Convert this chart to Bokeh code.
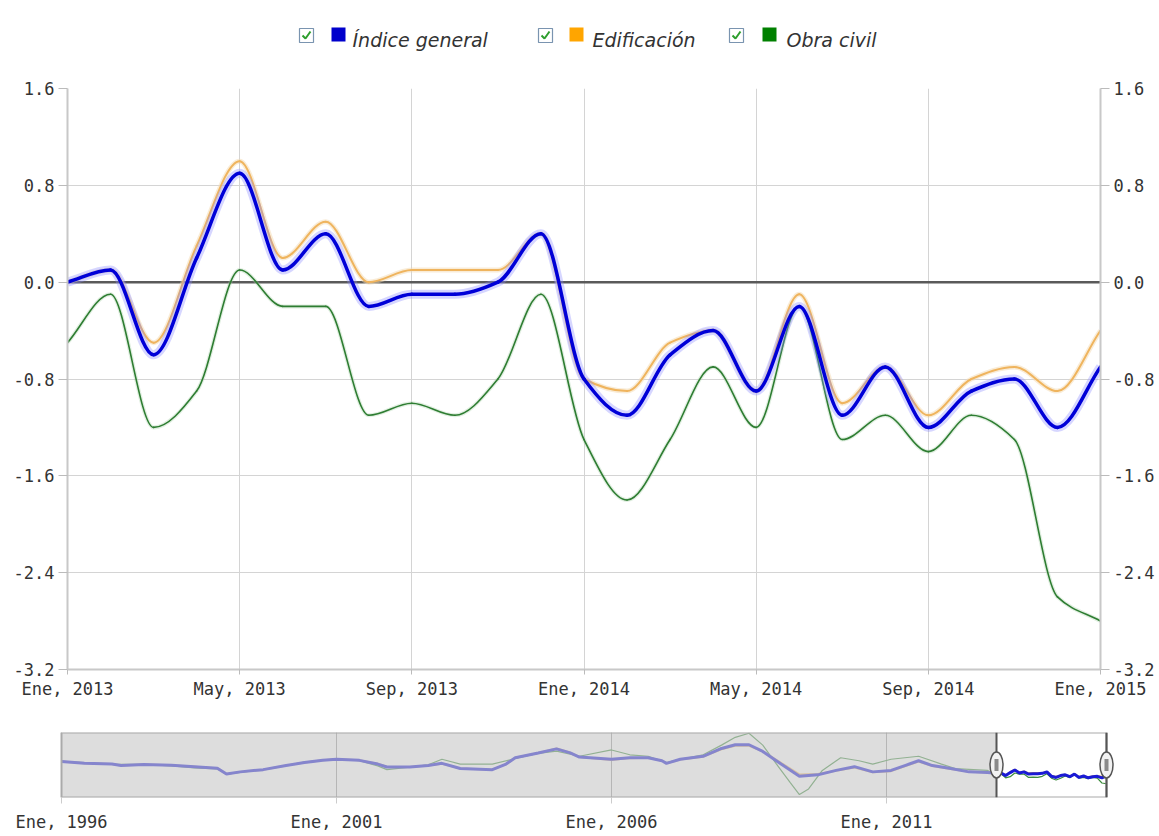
import numpy as np
from bokeh.plotting import figure
from bokeh.models import (Range1d, LinearAxis, FixedTicker, Span,
                          NumeralTickFormatter, ColumnDataSource)
from bokeh.core.properties import value
from bokeh.embed import file_html
from bokeh.resources import INLINE

# ---------------- data ----------------
series_names = ["Índice general", "Edificación", "Obra civil"]
series_colors = ["#0000cc", "#ffa500", "#008000"]

months = ["2013-01", "2013-02", "2013-03", "2013-04", "2013-05", "2013-06",
          "2013-07", "2013-08", "2013-09", "2013-10", "2013-11", "2013-12",
          "2014-01", "2014-02", "2014-03", "2014-04", "2014-05", "2014-06",
          "2014-07", "2014-08", "2014-09", "2014-10", "2014-11", "2014-12",
          "2015-01"]
indice_general = [0.0, 0.1, -0.6, 0.2, 0.9, 0.1, 0.4, -0.2, -0.1, -0.1, 0.0, 0.4,
                  -0.8, -1.1, -0.6, -0.4, -0.9, -0.2, -1.1, -0.7, -1.2, -0.9, -0.8, -1.2,
                  -0.7]
edificacion = [0.0, 0.1, -0.5, 0.3, 1.0, 0.2, 0.5, 0.0, 0.1, 0.1, 0.1, 0.4,
               -0.8, -0.9, -0.5, -0.4, -0.9, -0.1, -1.0, -0.7, -1.1, -0.8, -0.7, -0.9,
               -0.4]
obra_civil = [-0.5, -0.1, -1.2, -0.9, 0.1, -0.2, -0.2, -1.1, -1.0, -1.1, -0.8, -0.1,
              -1.3, -1.8, -1.3, -0.7, -1.2, -0.2, -1.3, -1.1, -1.4, -1.1, -1.3, -2.6,
              -2.8]

x_tick_months = ["2013-01", "2013-05", "2013-09", "2014-01", "2014-05", "2014-09", "2015-01"]
x_tick_labels = ["Ene, 2013", "May, 2013", "Sep, 2013", "Ene, 2014", "May, 2014",
                 "Sep, 2014", "Ene, 2015"]
y_ticks = [-3.2, -2.4, -1.6, -0.8, 0.0, 0.8, 1.6]

# navigator (history before the selected window)
nav_dates = ["1996-01", "1996-06", "1996-12", "1997-02", "1997-07", "1998-01", "1998-06",
             "1998-11", "1999-01", "1999-04", "1999-09", "2000-02", "2000-06", "2000-10",
             "2001-01", "2001-06", "2001-10", "2001-12", "2002-05", "2002-09", "2002-12",
             "2003-04", "2003-11", "2004-02", "2004-04", "2004-09", "2005-01", "2005-04",
             "2005-06", "2006-01", "2006-05", "2006-09", "2006-12", "2007-01", "2007-04",
             "2007-09", "2008-01", "2008-04", "2008-07", "2008-10", "2009-02", "2009-06",
             "2009-10", "2010-02", "2010-06", "2010-10", "2011-02", "2011-05", "2011-08",
             "2011-11", "2012-03", "2012-07", "2012-11"]
nav_indice = [3.2, 2.7, 2.5, 2.1, 2.4, 2.2, 1.8, 1.4, -0.2, 0.4, 1.0, 2.1, 2.9, 3.5,
              3.8, 3.5, 2.5, 1.7, 1.7, 2.1, 2.7, 1.3, 1.0, 2.5, 4.2, 5.5, 6.6, 5.5,
              4.4, 3.8, 4.2, 4.2, 3.4, 2.7, 3.8, 4.6, 6.7, 7.7, 7.7, 5.9, 2.5, -0.8,
              -0.4, 0.8, 1.8, 0.4, 0.8, 2.1, 3.4, 2.1, 1.3, 0.4, 0.2]
nav_edificacion = [3.2, 2.7, 2.5, 2.1, 2.4, 2.2, 1.8, 1.4, -0.2, 0.4, 1.0, 2.1, 2.9, 3.5,
                   3.8, 3.5, 2.6, 1.8, 1.7, 2.1, 2.6, 1.3, 1.0, 2.5, 4.2, 5.5, 6.7, 5.6,
                   4.4, 3.6, 4.1, 4.2, 3.4, 2.7, 3.7, 4.5, 6.5, 7.4, 7.4, 5.9, 2.8, -0.3,
                   -0.2, 0.7, 1.6, 0.3, 0.6, 1.9, 3.2, 2.0, 1.2, 0.4, 0.2]
nav_obra_dates = ["1996-01", "1996-12", "1997-07", "1998-01", "1998-06", "1998-11",
                  "1999-01", "1999-09", "2000-06", "2001-01", "2001-06", "2001-10",
                  "2001-12", "2002-05", "2002-09", "2002-12", "2003-04", "2003-11",
                  "2004-04", "2004-09", "2005-01", "2005-06", "2006-01", "2006-05",
                  "2006-09", "2007-01", "2007-04", "2007-09", "2008-01", "2008-04",
                  "2008-07", "2008-10", "2009-01", "2009-04", "2009-06", "2009-08",
                  "2009-11", "2010-03", "2010-07", "2010-10", "2011-02", "2011-08",
                  "2012-01", "2012-04", "2012-11"]
nav_obra = [3.2, 2.5, 2.4, 2.0, 1.5, 1.2, -0.2, 1.0, 3.0, 3.9, 3.4, 2.0, 1.0, 1.7,
            2.3, 3.8, 2.5, 2.5, 4.0, 5.4, 6.0, 4.6, 6.3, 5.0, 4.6, 2.9, 3.8, 5.0,
            7.6, 9.7, 10.8, 7.6, 2.5, -2.5, -5.7, -4.2, 0.8, 4.2, 3.4, 2.5, 3.8, 4.6,
            2.5, 1.3, 0.8]
nav_ticks = ["1996-01", "2001-01", "2006-01", "2011-01"]
nav_tick_labels = ["Ene, 1996", "Ene, 2001", "Ene, 2006", "Ene, 2011"]
window_edges = ["2013-01", "2015-01"]


def month_index(s):
    y, m = s.split("-")
    return (int(y) - 2013) * 12 + int(m) - 1


def dec_year(s):
    y, m = s.split("-")
    return int(y) + (int(m) - 1) / 12.0


def bezier_source(xs, ys):
    """Monotone cubic spline through the points, as bezier control points."""
    x = np.asarray(xs, float)
    y = np.asarray(ys, float)
    n = len(x)
    h = np.diff(x)
    d = np.diff(y) / h
    m = np.zeros(n)
    m[0] = d[0]
    m[-1] = d[-1]
    for i in range(1, n - 1):
        if d[i - 1] * d[i] <= 0:
            m[i] = 0.0
        else:
            w1 = 2 * h[i] + h[i - 1]
            w2 = h[i] + 2 * h[i - 1]
            m[i] = (w1 + w2) / (w1 / d[i - 1] + w2 / d[i])
    return ColumnDataSource(dict(
        x0=x[:-1], y0=y[:-1], x1=x[1:], y1=y[1:],
        cx0=x[:-1] + h / 3, cy0=y[:-1] + m[:-1] * h / 3,
        cx1=x[1:] - h / 3, cy1=y[1:] - m[1:] * h / 3))


FONT = "DejaVu Sans Mono"
LABEL_COLOR = "#333333"
W = 1159
LH = 68

# ---------------- legend ----------------
lg = figure(width=W, height=LH, x_range=Range1d(0, W), y_range=Range1d(LH, 0),
            x_axis_type=None, y_axis_type=None, min_border=0,
            toolbar_location=None, output_backend="svg", outline_line_color=None)
cb_x = [306, 545, 736]
sq_x = [338, 576, 769]
tx_x = [352, 592, 786]
lg.rect(x=cb_x, y=[35] * 3, width=14, height=14, fill_color="#ffffff",
        line_color="#7a94b0", line_width=1.2)
lg.multi_line(xs=[[c - 4, c - 1, c + 4] for c in cb_x],
              ys=[[35, 38, 31]] * 3, line_color="#2e9e2e", line_width=2)
lg.rect(x=sq_x, y=[34] * 3, width=14, height=14, fill_color=series_colors,
        line_color=None)
lg.text(x=tx_x, y=[39] * 3, text=series_names, text_font=value("DejaVu Sans"),
        text_font_style="italic", text_font_size="19px", text_color=LABEL_COLOR,
        text_baseline="alphabetic", text_align="left")

# ---------------- main chart ----------------
mx = [month_index(s) for s in months]
p = figure(width=W, height=644, x_range=Range1d(0, 24), y_range=Range1d(-3.2, 1.6),
           output_backend="svg", toolbar_location=None,
           min_border_left=67, min_border_right=59, min_border_top=20,
           min_border_bottom=43)
p.outline_line_color = None

p.yaxis[0].ticker = FixedTicker(ticks=y_ticks)
p.add_layout(LinearAxis(ticker=FixedTicker(ticks=y_ticks)), "right")
xt = [month_index(s) for s in x_tick_months]
p.xaxis[0].ticker = FixedTicker(ticks=xt)
p.xaxis[0].major_label_overrides = {t: l for t, l in zip(xt, x_tick_labels)}

for ax in p.yaxis:
    ax.formatter = NumeralTickFormatter(format="0.0")
for ax in p.axis:
    ax.axis_line_color = "#c8c8c8"
    ax.axis_line_width = 2
    ax.major_tick_line_color = "#bbbbbb"
    ax.major_tick_out = 9
    ax.major_tick_in = 0
    ax.minor_tick_out = 0
    ax.minor_tick_in = 0
    ax.major_label_text_font = FONT
    ax.major_label_text_font_size = "17px"
    ax.major_label_text_color = LABEL_COLOR
    ax.major_label_standoff = 4
p.xaxis[0].major_tick_out = 5
p.xgrid.ticker = FixedTicker(ticks=xt)
p.ygrid.ticker = FixedTicker(ticks=y_ticks)
p.grid.grid_line_color = "#d4d4d4"
p.grid.grid_line_width = 1

p.add_layout(Span(location=0, dimension="width", line_color="#5a5a5a",
                  line_width=2.5, level="underlay"))

bez = dict(x0="x0", y0="y0", x1="x1", y1="y1", cx0="cx0", cy0="cy0", cx1="cx1", cy1="cy1")
src_o = bezier_source(mx, obra_civil)
src_e = bezier_source(mx, edificacion)
src_i = bezier_source(mx, indice_general)
p.bezier(**bez, source=src_o, line_color="#a8d0a8", line_width=4, line_alpha=0.35)
p.bezier(**bez, source=src_o, line_color="#2e7d32", line_width=1.6, line_cap="round")
p.bezier(**bez, source=src_e, line_color="#f3d9b0", line_width=5, line_alpha=0.5)
p.bezier(**bez, source=src_e, line_color="#efb45e", line_width=2, line_cap="round")
p.bezier(**bez, source=src_i, line_color="#8a8aff", line_width=9, line_alpha=0.35)
p.bezier(**bez, source=src_i, line_color="#0000d8", line_width=3.5, line_cap="round")

# ---------------- navigator ----------------
PX_PER_YEAR = 55.0
n_start = dec_year(nav_ticks[0]) - 16 / PX_PER_YEAR
n_end = dec_year(window_edges[1]) + 19 / PX_PER_YEAR
ny0, ny1 = -6.5, 11.0
nv = figure(width=W, height=122, x_range=Range1d(n_start, n_end), y_range=Range1d(ny0, ny1),
            y_axis_type=None, output_backend="svg", toolbar_location=None,
            min_border_left=45, min_border_right=34, min_border_top=20,
            min_border_bottom=31)
nv.outline_line_color = None
nt = [dec_year(s) for s in nav_ticks]
nv.xaxis[0].ticker = FixedTicker(ticks=nt)
nv.xaxis[0].major_label_overrides = {t: l for t, l in zip(nt, nav_tick_labels)}
ax = nv.xaxis[0]
ax.axis_line_color = None
ax.major_tick_line_color = "#cccccc"
ax.major_tick_out = 6
ax.major_tick_in = 0
ax.minor_tick_out = 0
ax.minor_tick_in = 0
ax.major_label_text_font = FONT
ax.major_label_text_font_size = "17px"
ax.major_label_text_color = LABEL_COLOR
ax.major_label_standoff = 8
nv.xgrid.ticker = FixedTicker(ticks=nt)
nv.xgrid.grid_line_color = "#9a9a9a"

wx = [dec_year(s) for s in window_edges]
main_dec = [dec_year(s) for s in months]
nv.line([dec_year(s) for s in nav_dates] + main_dec, nav_edificacion + edificacion,
        line_color="#efb45e", line_width=2)
nv.line([dec_year(s) for s in nav_obra_dates] + main_dec, nav_obra + obra_civil,
        line_color="#3c8c3c", line_width=1.2)
nv.line([dec_year(s) for s in nav_dates] + main_dec, nav_indice + indice_general,
        line_color="#1a1ad6", line_width=3)
nv.quad(left=[dec_year(nav_ticks[0])], right=[wx[0]], bottom=[ny0], top=[ny1],
        fill_color="#c8c8c8", fill_alpha=0.62, line_color=None)
nv.quad(left=[dec_year(nav_ticks[0])], right=[wx[1]], bottom=[ny0], top=[ny1],
        fill_color=None, line_color="#aaaaaa", line_width=2)
nv.segment(x0=wx, x1=wx, y0=[ny0] * 2, y1=[ny1] * 2, line_color="#555555", line_width=2)
ymid = (ny0 + ny1) / 2
nv.ellipse(x=wx, y=[ymid] * 2, width=13, height=26, width_units="screen",
           height_units="screen", fill_color="#f2f2f2", line_color="#555555",
           line_width=1.5)
nv.rect(x=wx, y=[ymid] * 2, width=4, height=12, width_units="screen",
        height_units="screen", fill_color="#8a8a8a", line_color=None)

open("out.html", "w").write(file_html([lg, p, nv], INLINE))
